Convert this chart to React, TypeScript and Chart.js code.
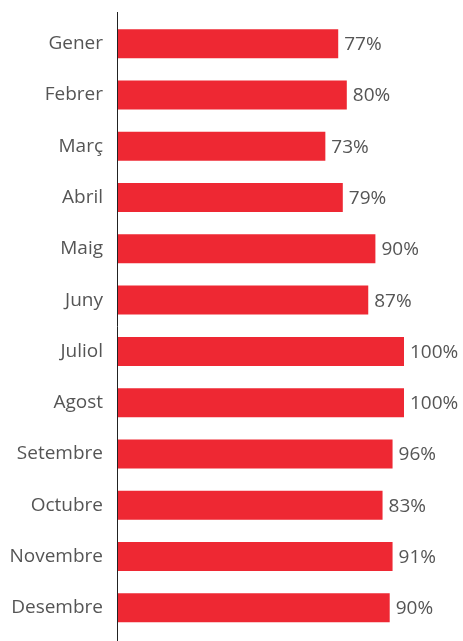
import React, { useEffect, useRef } from "react";
import { Chart, registerables } from "chart.js";

Chart.register(...registerables);

const months = [
  "Gener", "Febrer", "Març", "Abril", "Maig", "Juny",
  "Juliol", "Agost", "Setembre", "Octubre", "Novembre", "Desembre",
];
const barValues = [77, 80, 72.5, 78.6, 90, 87.5, 100, 100, 96, 92.5, 96, 95];
const valueLabels = ["77%", "80%", "73%", "79%", "90%", "87%", "100%", "100%", "96%", "83%", "91%", "90%"];

const FONT = "'Open Sans', sans-serif";

export default function App() {
  const ref = useRef<HTMLCanvasElement | null>(null);
  useEffect(() => {
    if (!ref.current) return;
    const axisLine = {
      id: "axisLine",
      afterDraw(chart: any) {
        const ctx = chart.ctx;
        const x = Math.round(chart.chartArea.left) - 0.5;
        ctx.save();
        ctx.strokeStyle = "#222";
        ctx.lineWidth = 1;
        ctx.beginPath();
        ctx.moveTo(x, 12);
        ctx.lineTo(x, chart.height);
        ctx.stroke();
        ctx.restore();
      },
    };
    const valueLabelPlugin = {
      id: "valueLabels",
      afterDatasetsDraw(chart: any) {
        const ctx = chart.ctx;
        const meta = chart.getDatasetMeta(0);
        ctx.save();
        ctx.font = `19px ${FONT}`;
        ctx.fillStyle = "#555";
        ctx.textAlign = "left";
        ctx.textBaseline = "middle";
        meta.data.forEach((bar: any, i: number) => {
          ctx.fillText(valueLabels[i], bar.x + 6, bar.y + 1);
        });
        ctx.restore();
      },
    };
    const chart = new Chart(ref.current, {
      type: "bar",
      data: {
        labels: months,
        datasets: [
          {
            data: barValues,
            backgroundColor: "#EE2833",
            borderWidth: 0,
            categoryPercentage: 1,
            barPercentage: 0.565,
          },
        ],
      },
      options: {
        indexAxis: "y",
        animation: false,
        responsive: false,
        layout: { padding: { top: 18, bottom: 7.5, right: 59, left: 0 } },
        plugins: { legend: { display: false }, tooltip: { enabled: false } },
        scales: {
          x: { display: false, min: 0, max: 100 },
          y: {
            afterFit(scale: any) {
              scale.width = 118;
              scale.paddingTop = 0;
              scale.paddingBottom = 0;
            },
            grid: { display: false, drawTicks: false },
            border: { display: false },
            ticks: {
              padding: 15,
              color: "#555",
              font: { family: FONT, size: 19 },
            },
          },
        },
      },
      plugins: [axisLine, valueLabelPlugin],
    });
    return () => chart.destroy();
  }, []);
  return (
    <div style={{ position: "fixed", left: 0, top: 0, width: 463, height: 641, background: "#fff" }}>
      <canvas ref={ref} width={463} height={641} />
    </div>
  );
}
